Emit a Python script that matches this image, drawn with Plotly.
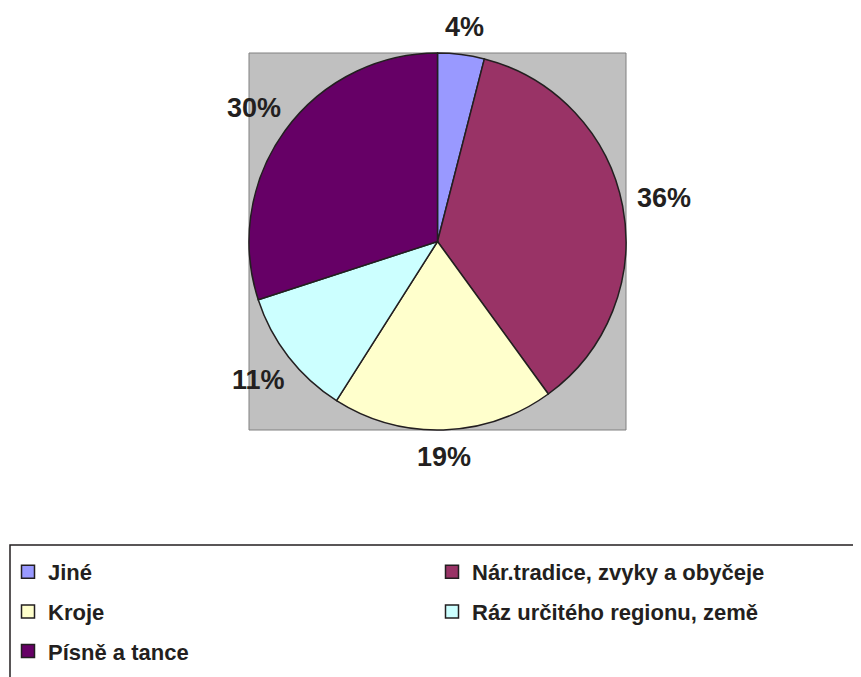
import numpy as np
import plotly.graph_objects as go

# ── Data ──────────────────────────────────────────────────────────────────
categories = [
    "Jiné",
    "Nár.tradice, zvyky a obyčeje",
    "Kroje",
    "Ráz určitého regionu, země",
    "Písně a tance",
]
shares = [4, 36, 19, 11, 30]
# legend column for each category (left / right, row order as in the original)
legend_col = ["legend", "legend2", "legend", "legend2", "legend"]

COLORS = ["#9999FF", "#993366", "#FFFFCC", "#CCFFFF", "#660066"]
TEXT = "#231F20"
FONT = "Liberation Sans, Arial, sans-serif"
W, H = 861, 677
OFF = 8  # the html page body adds an 8px margin around the plot div

# pie box (page pixels) -> paper coords
bx0, bx1, by0, by1 = 249 - OFF, 626 - OFF, 53 - OFF, 430 - OFF
dom_x = [bx0 / W, bx1 / W]
dom_y = [1 - by1 / H, 1 - by0 / H]

fig = go.Figure()

fig.add_trace(go.Pie(
    labels=categories,
    values=shares,
    sort=False,
    direction="clockwise",
    rotation=0,
    marker=dict(colors=COLORS, line=dict(color=TEXT, width=1.5)),
    textinfo="none",
    domain=dict(x=dom_x, y=dom_y),
    hoverinfo="label+percent",
    showlegend=False,
))

# ── Percentage labels, Excel style (further out than plotly's own) ─────────
LABEL_SIZE = 27
vals = np.array(shares, dtype=float)
frac = vals / vals.sum()
mid = 2 * np.pi * (np.cumsum(frac) - frac / 2)   # clockwise from 12 o'clock
cx, cy, r = (bx0 + bx1) / 2, (by0 + by1) / 2, (bx1 - bx0) / 2
for f, a in zip(frac, mid):
    txt = f"{f * 100:.0f}%"
    hw = (0.56 * (len(txt) - 1) + 0.89) * LABEL_SIZE / 2   # half text width
    hh = 0.45 * LABEL_SIZE                                  # half text height
    d = r + 15 + np.hypot(hw * np.sin(a), hh * np.cos(a))
    fig.add_annotation(
        x=(cx + d * np.sin(a)) / W, y=1 - (cy - d * np.cos(a)) / H,
        xref="paper", yref="paper", text=txt, showarrow=False,
        xanchor="center", yanchor="middle",
        font=dict(family=FONT, size=LABEL_SIZE, color=TEXT, weight="bold"),
    )

# legend entries (two columns, like the Excel legend)
for name, color, leg in zip(categories, COLORS, legend_col):
    fig.add_trace(go.Scatter(
        x=[None], y=[None], mode="markers", name=name,
        legend=leg, legendgroup=name,
        marker=dict(symbol="square", size=13, color=color,
                    line=dict(color=TEXT, width=1.5)),
    ))

# grey plot area behind the pie
fig.add_shape(type="rect", xref="paper", yref="paper",
              x0=dom_x[0], x1=dom_x[1], y0=dom_y[0], y1=dom_y[1],
              fillcolor="#C0C0C0", line=dict(color="#808080", width=1),
              layer="below")

# legend frame (runs off the right and bottom edges)
fig.add_shape(type="rect", xref="paper", yref="paper",
              x0=(10 - OFF) / W, x1=1.02, y0=-0.02, y1=1 - (545 - OFF) / H,
              fillcolor="rgba(0,0,0,0)", line=dict(color=TEXT, width=1.5),
              layer="above")

legend_base = dict(
    yanchor="top", y=1 - (560 - OFF - 9) / H, xanchor="left",
    font=dict(family=FONT, size=22, color=TEXT, weight="bold"),
    bgcolor="rgba(0,0,0,0)", tracegroupgap=8,
    itemclick=False, itemdoubleclick=False,
)

fig.update_layout(
    width=W, height=H,
    paper_bgcolor="white", plot_bgcolor="rgba(0,0,0,0)",
    margin=dict(l=0, r=0, t=0, b=0),
    xaxis=dict(visible=False), yaxis=dict(visible=False),
    showlegend=True,
    legend=dict(legend_base, x=0.0),
    legend2=dict(legend_base, x=424 / W),
)

fig.write_html("out.html")
